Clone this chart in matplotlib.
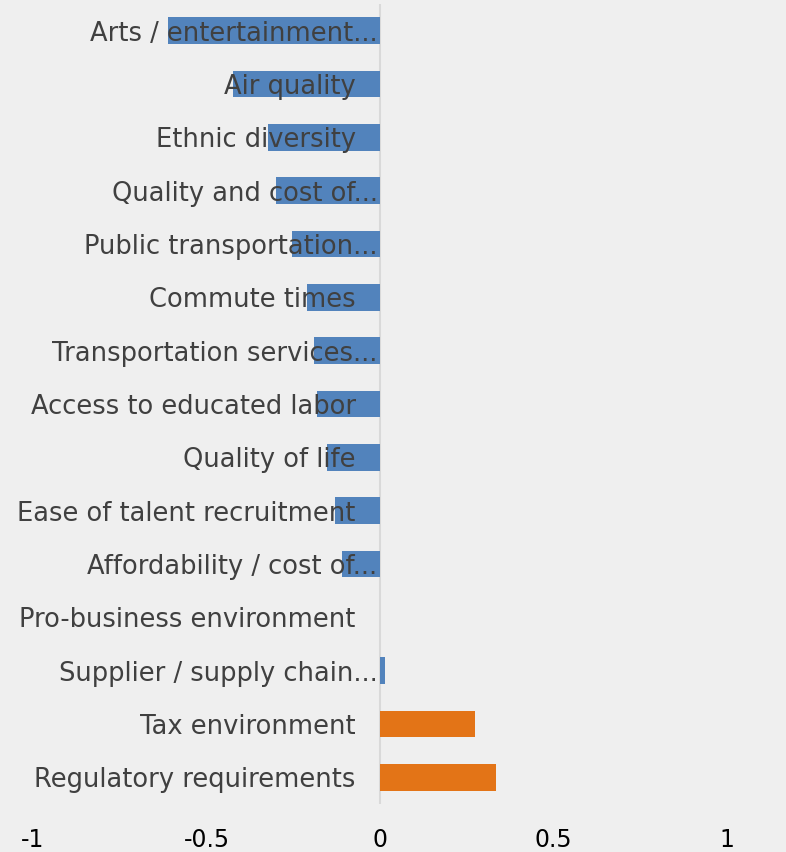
import matplotlib
matplotlib.use("Agg")
import matplotlib.pyplot as plt

# Factors, top to bottom, with their net scores
labels = [
    "Arts / entertainment...",
    "Air quality",
    "Ethnic diversity",
    "Quality and cost of...",
    "Public transportation...",
    "Commute times",
    "Transportation services...",
    "Access to educated labor",
    "Quality of life",
    "Ease of talent recruitment",
    "Affordability / cost of...",
    "Pro-business environment",
    "Supplier / supply chain...",
    "Tax environment",
    "Regulatory requirements",
]
values = [-0.611, -0.424, -0.323, -0.300, -0.254, -0.210, -0.190, -0.182,
          -0.153, -0.130, -0.110, 0.0, 0.014, 0.274, 0.334]
xticks = [-1, -0.5, 0, 0.5, 1]
xtick_labels = ["-1", "-0.5", "0", "0.5", "1"]

BLUE = "#5283BC"
ORANGE = "#E37417"
BG = "#EFEFEF"
TEXT = "#404040"

plt.rcParams["font.family"] = ["DejaVu Sans"]

fig = plt.figure(figsize=(7.86, 8.53), dpi=100, facecolor=BG)
ax = fig.add_axes([33 / 786, 1 - 805 / 853, (727 - 33) / 786, 800 / 853])
ax.set_facecolor(BG)

y = list(range(len(labels)))
colors = [ORANGE if v > 0.1 else BLUE for v in values]
ax.barh(y, values, height=0.5, color=colors, zorder=2)

ax.set_xlim(-1, 1)
ax.set_ylim(len(labels) - 0.5, -0.5)
ax.axvline(0, color="#D9D9D9", lw=1.5, zorder=1)

for s in ax.spines.values():
    s.set_visible(False)
ax.set_yticks([])
ax.set_xticks(xticks)
ax.set_xticklabels(xtick_labels)
ax.tick_params(axis="x", length=0, pad=16.5, labelsize=17, labelcolor="black")

# Category labels sit right-aligned just left of zero, over the bars
for yi, lab in zip(y, labels):
    xr = -0.007 if lab.endswith("...") else -0.07
    ax.text(xr, yi + 0.04, lab, ha="right", va="center", fontsize=18.5,
            color=TEXT, zorder=3, clip_on=False)

fig.savefig("out.png", dpi=100, facecolor=BG)
